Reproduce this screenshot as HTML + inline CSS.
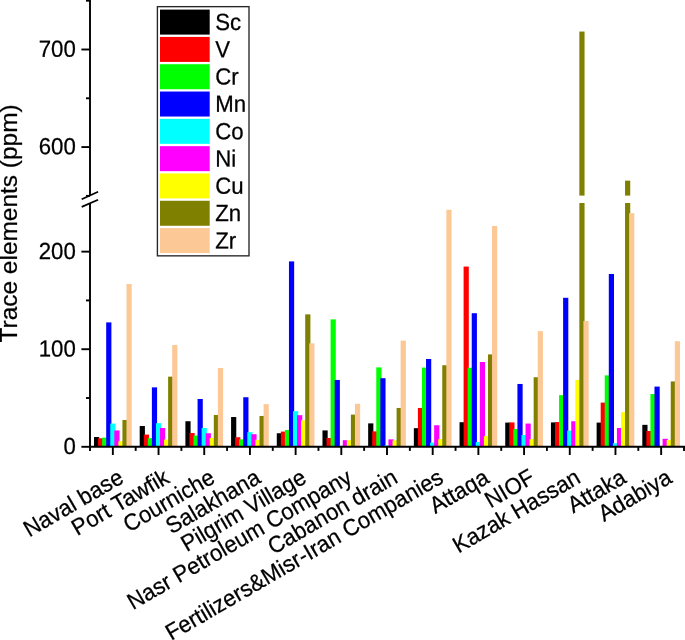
<!DOCTYPE html>
<html><head><meta charset="utf-8"><title>Trace elements</title>
<style>html,body{margin:0;padding:0;background:#fff}svg{display:block}text{font-family:"Liberation Sans",sans-serif;fill:#000;stroke:#000;stroke-width:0.25px}</style></head>
<body>
<svg width="685" height="640" viewBox="0 0 685 640">
<rect width="685" height="640" fill="#fff"/>
<g>
<rect x="94.01" y="437.04" width="5.2" height="9.76" fill="#000000"/>
<rect x="98.07" y="438.31" width="5.2" height="8.49" fill="#ff0000"/>
<rect x="102.13" y="437.63" width="5.2" height="9.17" fill="#00ff00"/>
<rect x="106.19" y="322.39" width="5.2" height="124.41" fill="#0000ff"/>
<rect x="110.25" y="423.58" width="5.2" height="23.22" fill="#00ffff"/>
<rect x="114.31" y="430.41" width="5.2" height="16.39" fill="#ff00ff"/>
<rect x="118.37" y="441.24" width="5.2" height="5.56" fill="#ffff00"/>
<rect x="122.43" y="419.97" width="5.2" height="26.83" fill="#808000"/>
<rect x="126.49" y="284.04" width="5.2" height="162.76" fill="#fcc896"/>
<rect x="139.70" y="426.02" width="5.2" height="20.78" fill="#000000"/>
<rect x="143.76" y="434.60" width="5.2" height="12.20" fill="#ff0000"/>
<rect x="147.82" y="438.21" width="5.2" height="8.59" fill="#00ff00"/>
<rect x="151.88" y="387.37" width="5.2" height="59.43" fill="#0000ff"/>
<rect x="155.94" y="423.19" width="5.2" height="23.61" fill="#00ffff"/>
<rect x="160.00" y="427.97" width="5.2" height="18.83" fill="#ff00ff"/>
<rect x="164.06" y="439.58" width="5.2" height="7.22" fill="#ffff00"/>
<rect x="168.12" y="376.64" width="5.2" height="70.16" fill="#808000"/>
<rect x="172.18" y="345.02" width="5.2" height="101.78" fill="#fcc896"/>
<rect x="185.39" y="421.23" width="5.2" height="25.57" fill="#000000"/>
<rect x="189.45" y="433.04" width="5.2" height="13.76" fill="#ff0000"/>
<rect x="193.51" y="435.58" width="5.2" height="11.22" fill="#00ff00"/>
<rect x="197.57" y="398.99" width="5.2" height="47.81" fill="#0000ff"/>
<rect x="201.63" y="427.97" width="5.2" height="18.83" fill="#00ffff"/>
<rect x="205.69" y="433.24" width="5.2" height="13.56" fill="#ff00ff"/>
<rect x="209.75" y="438.02" width="5.2" height="8.78" fill="#ffff00"/>
<rect x="213.81" y="414.99" width="5.2" height="31.81" fill="#808000"/>
<rect x="217.87" y="367.96" width="5.2" height="78.84" fill="#fcc896"/>
<rect x="231.08" y="417.04" width="5.2" height="29.76" fill="#000000"/>
<rect x="235.14" y="437.24" width="5.2" height="9.56" fill="#ff0000"/>
<rect x="239.20" y="439.38" width="5.2" height="7.42" fill="#00ff00"/>
<rect x="243.26" y="397.23" width="5.2" height="49.57" fill="#0000ff"/>
<rect x="247.32" y="432.16" width="5.2" height="14.64" fill="#00ffff"/>
<rect x="251.38" y="434.21" width="5.2" height="12.59" fill="#ff00ff"/>
<rect x="255.44" y="439.77" width="5.2" height="7.03" fill="#ffff00"/>
<rect x="259.50" y="415.96" width="5.2" height="30.84" fill="#808000"/>
<rect x="263.56" y="404.16" width="5.2" height="42.64" fill="#fcc896"/>
<rect x="276.78" y="433.24" width="5.2" height="13.56" fill="#000000"/>
<rect x="280.84" y="431.58" width="5.2" height="15.22" fill="#ff0000"/>
<rect x="284.90" y="430.02" width="5.2" height="16.78" fill="#00ff00"/>
<rect x="288.96" y="261.40" width="5.2" height="185.40" fill="#0000ff"/>
<rect x="293.02" y="411.18" width="5.2" height="35.62" fill="#00ffff"/>
<rect x="297.08" y="415.18" width="5.2" height="31.62" fill="#ff00ff"/>
<rect x="301.14" y="420.36" width="5.2" height="26.44" fill="#ffff00"/>
<rect x="305.20" y="314.38" width="5.2" height="132.42" fill="#808000"/>
<rect x="309.26" y="343.37" width="5.2" height="103.43" fill="#fcc896"/>
<rect x="322.47" y="430.41" width="5.2" height="16.39" fill="#000000"/>
<rect x="326.53" y="438.02" width="5.2" height="8.78" fill="#ff0000"/>
<rect x="330.59" y="319.36" width="5.2" height="127.44" fill="#00ff00"/>
<rect x="334.65" y="379.96" width="5.2" height="66.84" fill="#0000ff"/>
<rect x="338.71" y="445.82" width="5.2" height="0.98" fill="#00ffff"/>
<rect x="342.77" y="440.16" width="5.2" height="6.64" fill="#ff00ff"/>
<rect x="346.83" y="440.16" width="5.2" height="6.64" fill="#ffff00"/>
<rect x="350.89" y="414.60" width="5.2" height="32.20" fill="#808000"/>
<rect x="354.95" y="403.77" width="5.2" height="43.03" fill="#fcc896"/>
<rect x="368.16" y="423.38" width="5.2" height="23.42" fill="#000000"/>
<rect x="372.22" y="431.38" width="5.2" height="15.42" fill="#ff0000"/>
<rect x="376.28" y="367.37" width="5.2" height="79.43" fill="#00ff00"/>
<rect x="380.34" y="378.20" width="5.2" height="68.60" fill="#0000ff"/>
<rect x="384.40" y="445.34" width="5.2" height="1.46" fill="#00ffff"/>
<rect x="388.46" y="439.38" width="5.2" height="7.42" fill="#ff00ff"/>
<rect x="392.52" y="440.36" width="5.2" height="6.44" fill="#ffff00"/>
<rect x="396.58" y="407.96" width="5.2" height="38.84" fill="#808000"/>
<rect x="400.64" y="340.63" width="5.2" height="106.17" fill="#fcc896"/>
<rect x="413.85" y="428.16" width="5.2" height="18.64" fill="#000000"/>
<rect x="417.91" y="407.96" width="5.2" height="38.84" fill="#ff0000"/>
<rect x="421.97" y="367.57" width="5.2" height="79.23" fill="#00ff00"/>
<rect x="426.03" y="358.98" width="5.2" height="87.82" fill="#0000ff"/>
<rect x="430.09" y="442.60" width="5.2" height="4.20" fill="#00ffff"/>
<rect x="434.15" y="425.23" width="5.2" height="21.57" fill="#ff00ff"/>
<rect x="438.21" y="439.19" width="5.2" height="7.61" fill="#ffff00"/>
<rect x="442.27" y="365.22" width="5.2" height="81.58" fill="#808000"/>
<rect x="446.33" y="209.78" width="5.2" height="237.02" fill="#fcc896"/>
<rect x="459.54" y="422.21" width="5.2" height="24.59" fill="#000000"/>
<rect x="463.60" y="266.57" width="5.2" height="180.23" fill="#ff0000"/>
<rect x="467.66" y="367.76" width="5.2" height="79.04" fill="#00ff00"/>
<rect x="471.72" y="313.21" width="5.2" height="133.59" fill="#0000ff"/>
<rect x="475.78" y="442.02" width="5.2" height="4.78" fill="#00ffff"/>
<rect x="479.84" y="362.00" width="5.2" height="84.80" fill="#ff00ff"/>
<rect x="483.90" y="436.16" width="5.2" height="10.64" fill="#ffff00"/>
<rect x="487.96" y="354.39" width="5.2" height="92.41" fill="#808000"/>
<rect x="492.02" y="225.98" width="5.2" height="220.82" fill="#fcc896"/>
<rect x="505.24" y="422.60" width="5.2" height="24.20" fill="#000000"/>
<rect x="509.30" y="422.41" width="5.2" height="24.39" fill="#ff0000"/>
<rect x="513.36" y="429.04" width="5.2" height="17.76" fill="#00ff00"/>
<rect x="517.42" y="383.96" width="5.2" height="62.84" fill="#0000ff"/>
<rect x="521.48" y="434.99" width="5.2" height="11.81" fill="#00ffff"/>
<rect x="525.54" y="423.58" width="5.2" height="23.22" fill="#ff00ff"/>
<rect x="529.60" y="439.19" width="5.2" height="7.61" fill="#ffff00"/>
<rect x="533.66" y="377.23" width="5.2" height="69.57" fill="#808000"/>
<rect x="537.72" y="331.17" width="5.2" height="115.63" fill="#fcc896"/>
<rect x="550.93" y="422.41" width="5.2" height="24.39" fill="#000000"/>
<rect x="554.99" y="422.01" width="5.2" height="24.79" fill="#ff0000"/>
<rect x="559.05" y="395.18" width="5.2" height="51.62" fill="#00ff00"/>
<rect x="563.11" y="297.80" width="5.2" height="149.00" fill="#0000ff"/>
<rect x="567.17" y="430.60" width="5.2" height="16.20" fill="#00ffff"/>
<rect x="571.23" y="421.23" width="5.2" height="25.57" fill="#ff00ff"/>
<rect x="575.29" y="379.96" width="5.2" height="66.84" fill="#ffff00"/>
<rect x="579.35" y="203.00" width="5.2" height="243.80" fill="#808000"/>
<rect x="579.35" y="31.55" width="5.2" height="164.05" fill="#808000"/>
<rect x="583.41" y="321.02" width="5.2" height="125.78" fill="#fcc896"/>
<rect x="596.62" y="422.60" width="5.2" height="24.20" fill="#000000"/>
<rect x="600.68" y="402.60" width="5.2" height="44.20" fill="#ff0000"/>
<rect x="604.74" y="375.37" width="5.2" height="71.43" fill="#00ff00"/>
<rect x="608.80" y="273.99" width="5.2" height="172.81" fill="#0000ff"/>
<rect x="612.86" y="443.19" width="5.2" height="3.61" fill="#00ffff"/>
<rect x="616.92" y="427.97" width="5.2" height="18.83" fill="#ff00ff"/>
<rect x="620.98" y="412.16" width="5.2" height="34.64" fill="#ffff00"/>
<rect x="625.04" y="203.00" width="5.2" height="243.80" fill="#808000"/>
<rect x="625.04" y="180.65" width="5.2" height="14.95" fill="#808000"/>
<rect x="629.10" y="213.19" width="5.2" height="233.61" fill="#fcc896"/>
<rect x="642.31" y="424.84" width="5.2" height="21.96" fill="#000000"/>
<rect x="646.37" y="430.99" width="5.2" height="15.81" fill="#ff0000"/>
<rect x="650.43" y="394.01" width="5.2" height="52.79" fill="#00ff00"/>
<rect x="654.49" y="386.59" width="5.2" height="60.21" fill="#0000ff"/>
<rect x="662.61" y="438.80" width="5.2" height="8.00" fill="#ff00ff"/>
<rect x="666.67" y="439.97" width="5.2" height="6.83" fill="#ffff00"/>
<rect x="670.73" y="381.42" width="5.2" height="65.38" fill="#808000"/>
<rect x="674.79" y="341.22" width="5.2" height="105.58" fill="#fcc896"/>
</g>
<g stroke="#000" stroke-width="1.9" fill="none" stroke-linecap="butt">
<line x1="89.0" y1="446.8" x2="685" y2="446.8"/>
<line x1="90.0" y1="0" x2="90.0" y2="195.6"/>
<line x1="90.0" y1="203.0" x2="90.0" y2="447.7"/>
<line x1="112.85" y1="446.8" x2="112.85" y2="455.00"/>
<line x1="158.54" y1="446.8" x2="158.54" y2="455.00"/>
<line x1="204.23" y1="446.8" x2="204.23" y2="455.00"/>
<line x1="249.92" y1="446.8" x2="249.92" y2="455.00"/>
<line x1="295.62" y1="446.8" x2="295.62" y2="455.00"/>
<line x1="341.31" y1="446.8" x2="341.31" y2="455.00"/>
<line x1="387.00" y1="446.8" x2="387.00" y2="455.00"/>
<line x1="432.69" y1="446.8" x2="432.69" y2="455.00"/>
<line x1="478.38" y1="446.8" x2="478.38" y2="455.00"/>
<line x1="524.08" y1="446.8" x2="524.08" y2="455.00"/>
<line x1="569.77" y1="446.8" x2="569.77" y2="455.00"/>
<line x1="615.46" y1="446.8" x2="615.46" y2="455.00"/>
<line x1="661.15" y1="446.8" x2="661.15" y2="455.00"/>
<line x1="90.00" y1="446.8" x2="90.00" y2="450.90"/>
<line x1="135.69" y1="446.8" x2="135.69" y2="450.90"/>
<line x1="181.38" y1="446.8" x2="181.38" y2="450.90"/>
<line x1="227.08" y1="446.8" x2="227.08" y2="450.90"/>
<line x1="272.77" y1="446.8" x2="272.77" y2="450.90"/>
<line x1="318.46" y1="446.8" x2="318.46" y2="450.90"/>
<line x1="364.15" y1="446.8" x2="364.15" y2="450.90"/>
<line x1="409.85" y1="446.8" x2="409.85" y2="450.90"/>
<line x1="455.54" y1="446.8" x2="455.54" y2="450.90"/>
<line x1="501.23" y1="446.8" x2="501.23" y2="450.90"/>
<line x1="546.92" y1="446.8" x2="546.92" y2="450.90"/>
<line x1="592.62" y1="446.8" x2="592.62" y2="450.90"/>
<line x1="638.31" y1="446.8" x2="638.31" y2="450.90"/>
<line x1="684.00" y1="446.8" x2="684.00" y2="450.90"/>
<line x1="81.4" y1="446.80" x2="90.0" y2="446.80"/>
<line x1="81.4" y1="349.22" x2="90.0" y2="349.22"/>
<line x1="81.4" y1="251.64" x2="90.0" y2="251.64"/>
<line x1="86.0" y1="398.01" x2="90.0" y2="398.01"/>
<line x1="86.0" y1="300.43" x2="90.0" y2="300.43"/>
<line x1="81.4" y1="147.08" x2="90.0" y2="147.08"/>
<line x1="81.4" y1="49.50" x2="90.0" y2="49.50"/>
<line x1="86.0" y1="195.87" x2="90.0" y2="195.87"/>
<line x1="86.0" y1="98.29" x2="90.0" y2="98.29"/>
<line x1="86.0" y1="0.71" x2="90.0" y2="0.71"/>
</g>
<g stroke="#000" stroke-width="1.7" fill="none" stroke-linecap="butt">
<line x1="81.7" y1="199.3" x2="98.1" y2="191.7"/>
<line x1="81.7" y1="206.9" x2="98.1" y2="199.7"/>
</g>
<g font-size="22.2" text-anchor="end">
<text transform="translate(75.8,454.10) rotate(0.03) scale(1,1.05)">0</text>
<text transform="translate(75.8,356.52) rotate(0.03) scale(1,1.05)">100</text>
<text transform="translate(75.8,258.94) rotate(0.03) scale(1,1.05)">200</text>
<text transform="translate(75.8,154.38) rotate(0.03) scale(1,1.05)">600</text>
<text transform="translate(75.8,56.80) rotate(0.03) scale(1,1.05)">700</text>
</g>
<text font-size="24.4" text-anchor="middle" transform="translate(17.3,223.4) rotate(-90) scale(1.002,0.96)">Trace elements (ppm)</text>
<g font-size="22.2" text-anchor="end">
<text transform="translate(125.05,481.8) rotate(-30.2) scale(1,1.04)">Naval base</text>
<text transform="translate(170.74,481.8) rotate(-30.2) scale(1,1.04)">Port Tawfik</text>
<text transform="translate(216.43,481.8) rotate(-30.2) scale(1,1.04)">Courniche</text>
<text transform="translate(262.12,481.8) rotate(-30.2) scale(1,1.04)">Salakhana</text>
<text transform="translate(307.82,481.8) rotate(-30.2) scale(1,1.04)">Pilgrim Village</text>
<text transform="translate(353.51,481.8) rotate(-30.2) scale(1,1.04)">Nasr Petroleum Company</text>
<text transform="translate(399.20,481.8) rotate(-30.2) scale(1,1.04)">Cabanon drain</text>
<text transform="translate(444.89,481.8) rotate(-30.2) scale(1,1.04)">Fertilizers&amp;Misr-Iran Companies</text>
<text transform="translate(490.58,481.8) rotate(-30.2) scale(1,1.04)">Attaqa</text>
<text transform="translate(536.28,481.8) rotate(-30.2) scale(1,1.04)">NIOF</text>
<text transform="translate(581.97,481.8) rotate(-30.2) scale(1,1.04)">Kazak Hassan</text>
<text transform="translate(627.66,481.8) rotate(-30.2) scale(1,1.04)">Attaka</text>
<text transform="translate(673.35,481.8) rotate(-30.2) scale(1,1.04)">Adabiya</text>
</g>
<rect x="157.4" y="6.65" width="91.6" height="249.2" fill="#fff" stroke="#262626" stroke-width="1.35"/>
<g font-size="22.2">
<rect x="160" y="9.60" width="49.7" height="25" fill="#000000"/>
<text transform="translate(215.2,29.90) rotate(0.03) scale(1,1.05)">Sc</text>
<rect x="160" y="36.91" width="49.7" height="25" fill="#ff0000"/>
<text transform="translate(215.2,57.21) rotate(0.03) scale(1,1.05)">V</text>
<rect x="160" y="64.22" width="49.7" height="25" fill="#00ff00"/>
<text transform="translate(215.2,84.52) rotate(0.03) scale(1,1.05)">Cr</text>
<rect x="160" y="91.53" width="49.7" height="25" fill="#0000ff"/>
<text transform="translate(215.2,111.83) rotate(0.03) scale(1,1.05)">Mn</text>
<rect x="160" y="118.84" width="49.7" height="25" fill="#00ffff"/>
<text transform="translate(215.2,139.14) rotate(0.03) scale(1,1.05)">Co</text>
<rect x="160" y="146.15" width="49.7" height="25" fill="#ff00ff"/>
<text transform="translate(215.2,166.45) rotate(0.03) scale(1,1.05)">Ni</text>
<rect x="160" y="173.46" width="49.7" height="25" fill="#ffff00"/>
<text transform="translate(215.2,193.76) rotate(0.03) scale(1,1.05)">Cu</text>
<rect x="160" y="200.77" width="49.7" height="25" fill="#808000"/>
<text transform="translate(215.2,221.07) rotate(0.03) scale(1,1.05)">Zn</text>
<rect x="160" y="228.08" width="49.7" height="25" fill="#fcc896"/>
<text transform="translate(215.2,248.38) rotate(0.03) scale(1,1.05)">Zr</text>
</g>
</svg>
</body></html>
